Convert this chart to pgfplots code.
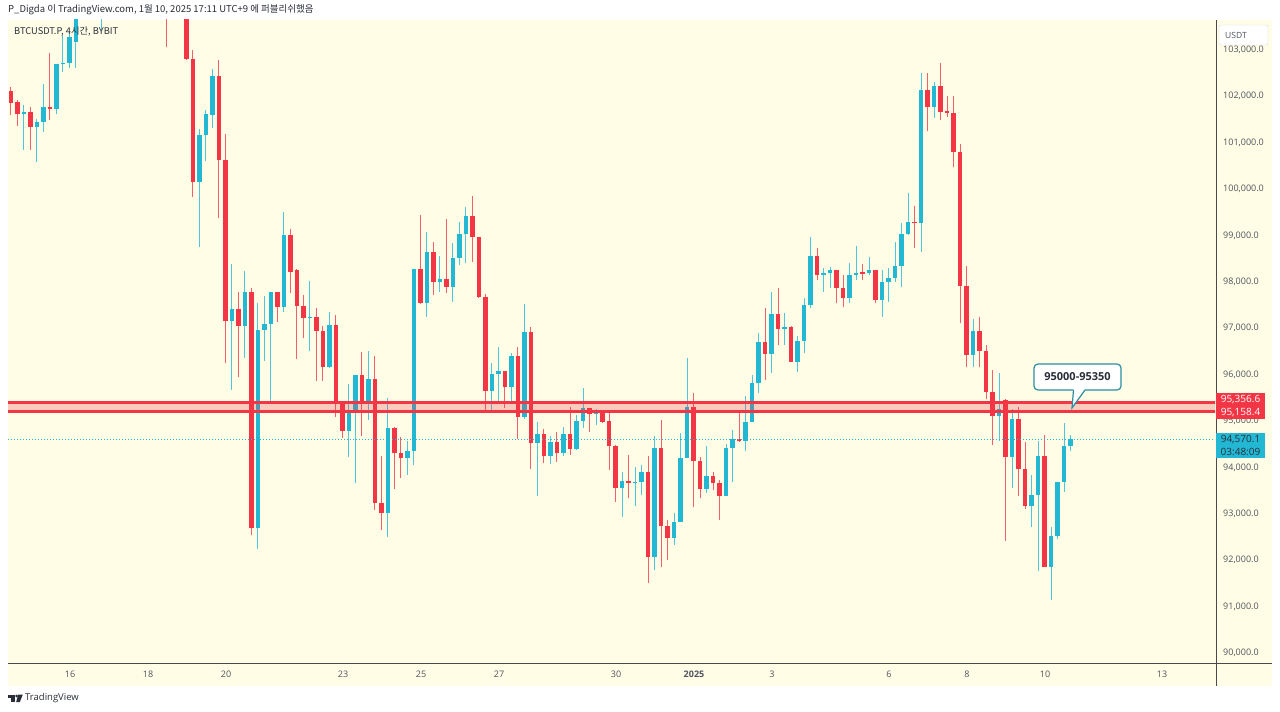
\documentclass[border=0pt]{standalone}
\usepackage{pgfplots}
\pgfplotsset{compat=1.18}
\usepackage{pgfplotstable}
\usepackage{fontspec}
\setmainfont{Open Sans}
\newfontfamily\kr{Noto Sans CJK KR}
\definecolor{tvred}{HTML}{F23645}
\definecolor{tvcyan}{HTML}{22B8D4}
\definecolor{bgyel}{HTML}{FFFDE6}
\definecolor{txt}{HTML}{50535E}
\definecolor{dark}{HTML}{2A2E39}
\definecolor{callout}{HTML}{2B8FA3}
\definecolor{sep}{HTML}{4A4A4A}
\pgfplotstableread{
i o h l c
0 102070 102160 101550 101810
1 101825 101874 101314 101572
2 101572 101766 100797 101615
3 101615 101723 100797 101299
4 101299 101465 100544 101406
5 101393 102219 101191 101717
6 101730 102887 101443 101687
7 101687 102660 101572 102650
8 102650 103275 102484 102678
9 102680 103346 102557 103238
10 103130 103800 102570 103700
11 103700 104500 103650 104300
12 104300 104900 104100 104600
13 104600 105200 104000 104200
14 104200 104800 103380 104500
15 104500 105800 104400 105600
16 105600 106500 105300 106200
17 106200 107000 105800 106800
18 106800 108000 106500 107500
19 107500 107800 106500 106800
20 106800 107200 105800 106000
21 106000 106600 105400 106300
22 106300 106500 105000 105300
23 105300 105800 104500 104800
24 104800 105200 103020 104200
25 104200 104600 103700 104000
26 104000 104400 103800 104300
27 104300 104500 102740 102760
28 102766 102952 99784 100111
29 100111 101249 98706 101128
30 101111 101667 100551 101572
31 101551 102551 101281 102398
32 102398 102745 99333 100572
33 100572 101141 96206 97112
34 97112 98340 95625 97379
35 97379 97741 95894 97010
36 97010 98189 96314 97741
37 97741 97823 92500 92651
38 92651 97510 92198 96918
39 96918 97650 96256 97047
40 97047 97741 95355 97726
41 97726 97740 97090 97413
42 97411 99460 97305 98973
43 98973 99103 97717 98167
44 98200 98230 96301 97435
45 97435 97680 96741 97178
46 97178 97974 96456 97200
47 97200 97394 95819 96896
48 96900 97010 95819 96125
49 96125 97305 96100 97025
50 97025 97241 95047 95316
51 95316 95355 94590 94741
52 94741 95762 94181 95178
53 95202 95948 93620 95948
54 95948 96433 94625 95316
55 95316 96471 94978 95862
56 95862 96364 93039 93183
57 93183 94202 92608 92967
58 92967 95446 92463 94812
59 94812 94830 93485 94273
60 94273 94618 93722 94153
61 94153 94532 93793 94316
62 94316 98240 94008 98226
63 98226 99396 97480 97493
64 97493 99023 97191 98605
65 98605 98820 97672 97958
66 97958 98512 97743 98017
67 98017 99310 97721 97851
68 97851 98799 97527 98476
69 98476 99251 98318 98980
70 98980 99575 98355 99374
71 99374 99800 98389 98915
72 98915 98930 97600 97635
73 97635 97700 95194 95609
74 95609 96213 95194 95963
75 95963 96558 95372 96034
76 96034 96040 95230 95696
77 95696 96415 95372 96364
78 96364 96558 94562 95036
79 95036 97478 95000 96881
80 96881 96989 93916 94476
81 94476 94941 93340 94676
82 94676 94778 94045 94202
83 94202 94633 94030 94510
84 94510 94726 94079 94273
85 94273 94834 94202 94676
86 94676 95265 94224 94347
87 94347 95086 94330 94957
88 94957 95661 94799 95230
89 95230 95240 94726 95101
90 95101 95210 94870 95194
91 95178 95194 94920 94941
92 94957 95122 93901 94424
93 94424 94440 93217 93506
94 93506 93864 92894 93664
95 93664 94224 93291 93614
96 93614 93972 93125 93650
97 93640 94008 93362 93864
98 93864 94202 91459 92032
99 92032 94633 91746 94368
100 94368 94978 91817 92694
101 92694 92823 91961 92429
102 92429 92967 92284 92786
103 92786 94691 92780 94166
104 94166 96308 94150 95265
105 95265 95566 93110 94101
106 94101 94187 93291 93485
107 93485 94418 93411 93771
108 93771 93864 93470 93614
109 93614 93685 92823 93347
110 93347 94454 93340 94368
111 94368 94763 93648 94562
112 94562 95122 94510 94530
113 94530 95495 94316 94941
114 94941 95948 94930 95769
115 95769 96846 95553 96665
116 96665 97385 95840 96400
117 96400 97730 95984 97262
118 97262 97816 96594 96933
119 96933 97290 96594 96989
120 96989 97000 96220 96234
121 96234 96788 96019 96681
122 96681 97601 96415 97456
123 97456 98928 97385 98512
124 98512 98678 97995 98103
125 98103 98247 97743 98139
126 98139 98268 97816 98211
127 98211 98220 97493 97816
128 97816 98103 97420 97601
129 97601 98355 97493 98103
130 98103 98728 97995 98152
131 98160 98340 97995 98130
132 98139 98484 98103 98211
133 98211 98220 97493 97564
134 97564 98211 97191 97958
135 97958 98260 97527 98032
136 98032 98820 97958 98303
137 98303 99230 97851 98980
138 98980 99863 98960 99251
139 99249 99590 98685 99219
140 99220 102452 98603 102090
141 102090 102452 101197 101721
142 101721 102260 101488 102182
143 102182 102682 101452 101620
144 101640 101952 101505 101600
145 101600 101952 100428 100758
146 100758 100934 97064 97872
147 97872 98297 96125 96370
148 96370 97163 96125 96887
149 96887 97200 96125 96465
150 96465 96603 95424 95581
151 95581 96064 94448 95064
152 95064 95991 94526 95215
153 95409 95424 92371 94181
154 94181 95215 93523 95008
155 95008 95258 93347 93931
156 93931 94504 93060 93116
157 93116 93793 92677 93370
158 93370 94526 91715 94194
159 94194 94655 91800 91815
160 91815 92677 91099 92470
161 92470 93650 92414 93642
162 93642 94909 93426 94424
163 94424 94655 94316 94570.1
}\candles
\begin{document}
\begin{tikzpicture}[x=1bp,y=-1bp]
\fill[white] (0,0) rectangle (1280,712);
\fill[bgyel] (8,20) rectangle (1272,686);
\begin{axis}[
  at={(8bp,-663bp)}, anchor=south west,
  scale only axis, width=1207bp, height=643bp,
  xmin=-0.46, xmax=185.23, ymin=89741, ymax=103598,
  axis line style={draw=none},
  major tick length=0pt,
  tick style={draw=none},
  xtick={9.08,21.08,33.08,51.08,63.08,75.08,93.08,105.08,117.08,135.08,147.08,159.08,177.08},
  xticklabels={16,18,20,23,25,27,30,\textbf{2025},3,6,8,10,13},
  ytick={90000,91000,92000,93000,94000,95000,96000,97000,98000,99000,100000,101000,102000,103000},
  yticklabel pos=right,
  scaled y ticks=false,
  /pgf/number format/assume math mode=true,
  yticklabel style={/pgf/number format/fixed, /pgf/number format/fixed zerofill, /pgf/number format/precision=1, /pgf/number format/1000 sep={,}, anchor=west, inner sep=0pt, xshift=8bp, yshift=-2bp, font=\fontsize{9bp}{10bp}\selectfont, text=txt},
  xticklabel style={anchor=center, inner sep=0pt, yshift=-11bp, font=\fontsize{9bp}{10bp}\selectfont, text=txt},
]
% wicks
\addplot[tvcyan!80!white, line width=1bp, quiver={u=0, v=\thisrow{h}-\thisrow{l}},
  restrict expr to domain={\thisrow{c}-\thisrow{o}}{0:1e9}] table[x=i, y=l] {\candles};
\addplot[tvred!80!white, line width=1bp, quiver={u=0, v=\thisrow{h}-\thisrow{l}},
  restrict expr to domain={\thisrow{c}-\thisrow{o}}{-1e9:-0.01}] table[x=i, y=l] {\candles};
% bodies
\addplot[tvcyan, line width=4.6bp, quiver={u=0, v=\thisrow{c}-\thisrow{o}},
  restrict expr to domain={\thisrow{c}-\thisrow{o}}{0:1e9}] table[x=i, y=o] {\candles};
\addplot[tvred, line width=4.6bp, quiver={u=0, v=\thisrow{c}-\thisrow{o}},
  restrict expr to domain={\thisrow{c}-\thisrow{o}}{-1e9:-0.01}] table[x=i, y=o] {\candles};
% zone
\addplot[draw=none, fill=tvred, fill opacity=0.25] coordinates {(-5,95158.4) (190,95158.4) (190,95356.6) (-5,95356.6)};
\addplot[tvred, line width=2.8bp] coordinates {(-5,95356.6) (190,95356.6)};
\addplot[tvred, line width=2.8bp] coordinates {(-5,95158.4) (190,95158.4)};
\addplot[tvcyan, line width=0.8bp, dash pattern=on 1bp off 2bp] coordinates {(-5,94570.1) (190,94570.1)};
\end{axis}
% separators
\draw[sep, line width=1bp] (1216,20) -- (1216,686);
\draw[sep, line width=1bp] (8,663.5) -- (1272,663.5);
% USDT box
\draw[gray!30, fill=white, rounded corners=2] (1219,25) rectangle (1268,45);
\node[anchor=west, inner sep=0, text=txt, font=\fontsize{8.5bp}{9bp}\selectfont] at (1225,35) {USDT};
% price tags
\fill[tvred] (1216,393) rectangle (1265,406);
\fill[tvred] (1216,406) rectangle (1265,419);
\node[text=white, inner sep=0, font=\fontsize{10bp}{11bp}\selectfont] at (1240.5,399.5) {95,356.6};
\node[text=white, inner sep=0, font=\fontsize{10bp}{11bp}\selectfont] at (1240.5,412.5) {95,158.4};
\fill[tvcyan] (1216,433) rectangle (1265,458);
\node[text=dark, inner sep=0, font=\fontsize{10bp}{11bp}\selectfont] at (1240.5,439.5) {94,570.1};
\node[text=dark, inner sep=0, font=\fontsize{10bp}{11bp}\selectfont] at (1240.5,451.5) {03:48:09};
% callout
\draw[callout, line width=1.2bp, fill=white, rounded corners=4] (1034,364) rectangle (1121,390);
\fill[white] (1073.5,389) -- (1085,389) -- (1072,407) -- cycle;
\draw[callout, line width=1.2bp] (1073.5,390) -- (1072,408) -- (1085,390);
\node[text=dark, inner sep=0, font=\bfseries\fontsize{11bp}{12bp}\selectfont] at (1077.5,377) {95000-95350};
% header
\node[anchor=west, inner sep=0, text=dark] at (8,10) {\kr\fontsize{9.5bp}{10bp}\selectfont P\_Digda 이 TradingView.com, 1월 10, 2025 17:11 UTC+9 에 퍼블리쉬했음};
\node[anchor=west, inner sep=0, text=dark] at (14,32) {\kr\fontsize{9.3bp}{10bp}\selectfont BTCUSDT.P, 4시간, BYBIT};
% footer logo
\fill[dark] (8,694.5) rectangle (14.5,697.5);
\fill[dark] (11,697.5) rectangle (14.5,702);
\fill[dark] (16.6,696) circle (1.5);
\fill[dark] (18.2,694.5) -- (22.8,694.5) -- (19.8,702) -- (16.2,702) -- cycle;
\node[anchor=west, inner sep=0, text=dark, font=\fontsize{9.5bp}{10bp}\selectfont] at (25,698) {TradingView};
\pgfresetboundingbox
\useasboundingbox (0,0) rectangle (1280,712);
\end{tikzpicture}
\end{document}
